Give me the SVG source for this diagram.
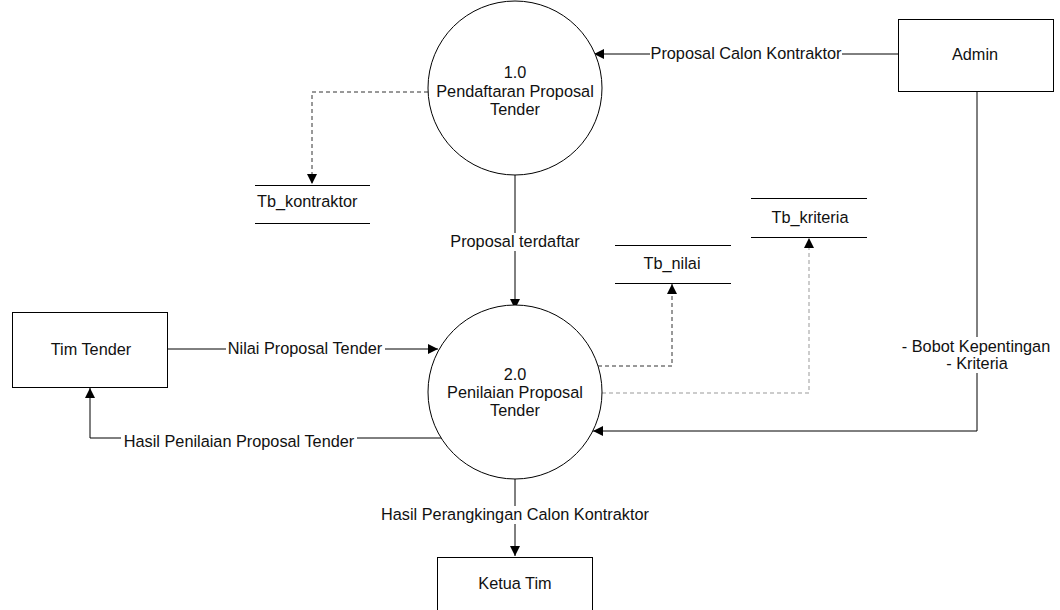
<svg xmlns="http://www.w3.org/2000/svg" width="1060" height="610" viewBox="0 0 1060 610">
  <defs>
    <marker id="arrow" viewBox="0 0 10 10" refX="10" refY="5" markerWidth="10" markerHeight="10" markerUnits="userSpaceOnUse" orient="auto">
      <path d="M0,0 L10,5 L0,10 Z" fill="#000"/>
    </marker>
    <style>
      text { font-family: "Liberation Sans", Arial, sans-serif; font-size: 16.3px; fill: #111; }
      .c { text-anchor: middle; }
      .proc { fill: #fff; stroke: #000; stroke-width: 1; }
      .ent { fill: #fff; stroke: #000; stroke-width: 1; }
      .store { stroke: #000; stroke-width: 1; }
      .flow { fill: none; stroke: #000; stroke-width: 1; }
      .dash { fill: none; stroke: #333; stroke-width: 1; stroke-dasharray: 4 3; }
      .dash-light { fill: none; stroke: #999; stroke-width: 1; stroke-dasharray: 4 3; }
      .lbl { fill: #fff; }
    </style>
  </defs>
  <rect width="1060" height="610" fill="#fff"/>

  <!-- connectors -->
  <g id="connectors">
    <path class="flow" d="M898,54 H594" marker-end="url(#arrow)"/>
    <path class="dash" d="M428,92 H312 V184" marker-end="url(#arrow)"/>
    <path class="flow" d="M515,175 V309" marker-end="url(#arrow)" stroke="#444"/>
    <path class="dash" d="M598,366 H672 V284" marker-end="url(#arrow)"/>
    <path class="dash-light" d="M602,393 H809 V238" marker-end="url(#arrow)"/>
    <path class="flow" d="M168,349 H438" marker-end="url(#arrow)"/>
    <path class="flow" d="M441,438 H90 V388" marker-end="url(#arrow)"/>
    <path class="flow" d="M977,92 V431 H593" marker-end="url(#arrow)"/>
    <path class="flow" d="M515,475 V556" marker-end="url(#arrow)"/>

    <!-- flow labels -->
    <rect class="lbl" x="650" y="45" width="192" height="18"/>
    <text class="c" x="746" y="59">Proposal Calon Kontraktor</text>
    <rect class="lbl" x="448" y="233" width="134" height="18"/>
    <text class="c" x="515" y="247">Proposal terdaftar</text>
    <rect class="lbl" x="226" y="340" width="159" height="18"/>
    <text class="c" x="305" y="354">Nilai Proposal Tender</text>
    <rect class="lbl" x="121" y="429" width="236" height="18"/>
    <text class="c" x="239" y="447">Hasil Penilaian Proposal Tender</text>
    <rect class="lbl" x="898" y="337" width="156" height="36"/>
    <text class="c" x="976" y="352">- Bobot Kepentingan</text>
    <text class="c" x="977" y="369">- Kriteria</text>
    <rect class="lbl" x="380" y="506" width="270" height="18"/>
    <text class="c" x="515" y="520">Hasil Perangkingan Calon Kontraktor</text>
  </g>

  <!-- processes -->
  <g id="proc-1">
    <circle class="proc" cx="515" cy="88" r="87"/>
    <text class="c" x="515" y="78">1.0</text>
    <text class="c" x="515" y="97">Pendaftaran Proposal</text>
    <text class="c" x="515" y="115">Tender</text>
  </g>
  <g id="proc-2">
    <circle class="proc" cx="515" cy="392" r="87"/>
    <text class="c" x="515" y="380">2.0</text>
    <text class="c" x="515" y="398">Penilaian Proposal</text>
    <text class="c" x="515" y="416">Tender</text>
  </g>

  <!-- external entities -->
  <g id="admin">
    <rect class="ent" x="898.5" y="19.5" width="155" height="72"/>
    <text class="c" x="975" y="60">Admin</text>
  </g>
  <g id="tim-tender">
    <rect class="ent" x="12.5" y="312.5" width="155" height="75"/>
    <text class="c" x="91" y="355">Tim Tender</text>
  </g>
  <g id="ketua-tim">
    <rect class="ent" x="437.5" y="557.5" width="155" height="60"/>
    <text class="c" x="515" y="589">Ketua Tim</text>
  </g>

  <!-- data stores -->
  <g id="tb-kontraktor">
    <line class="store" x1="255" y1="185.5" x2="370" y2="185.5"/>
    <line class="store" x1="255" y1="223.5" x2="370" y2="223.5"/>
    <text x="257" y="207">Tb_kontraktor</text>
  </g>
  <g id="tb-nilai">
    <line class="store" x1="615" y1="245.5" x2="731" y2="245.5"/>
    <line class="store" x1="615" y1="283.5" x2="731" y2="283.5"/>
    <text class="c" x="672" y="269">Tb_nilai</text>
  </g>
  <g id="tb-kriteria">
    <line class="store" x1="751" y1="198.5" x2="867" y2="198.5" stroke="#555"/>
    <line class="store" x1="751" y1="237.5" x2="867" y2="237.5"/>
    <text class="c" x="810" y="223">Tb_kriteria</text>
  </g>
</svg>
